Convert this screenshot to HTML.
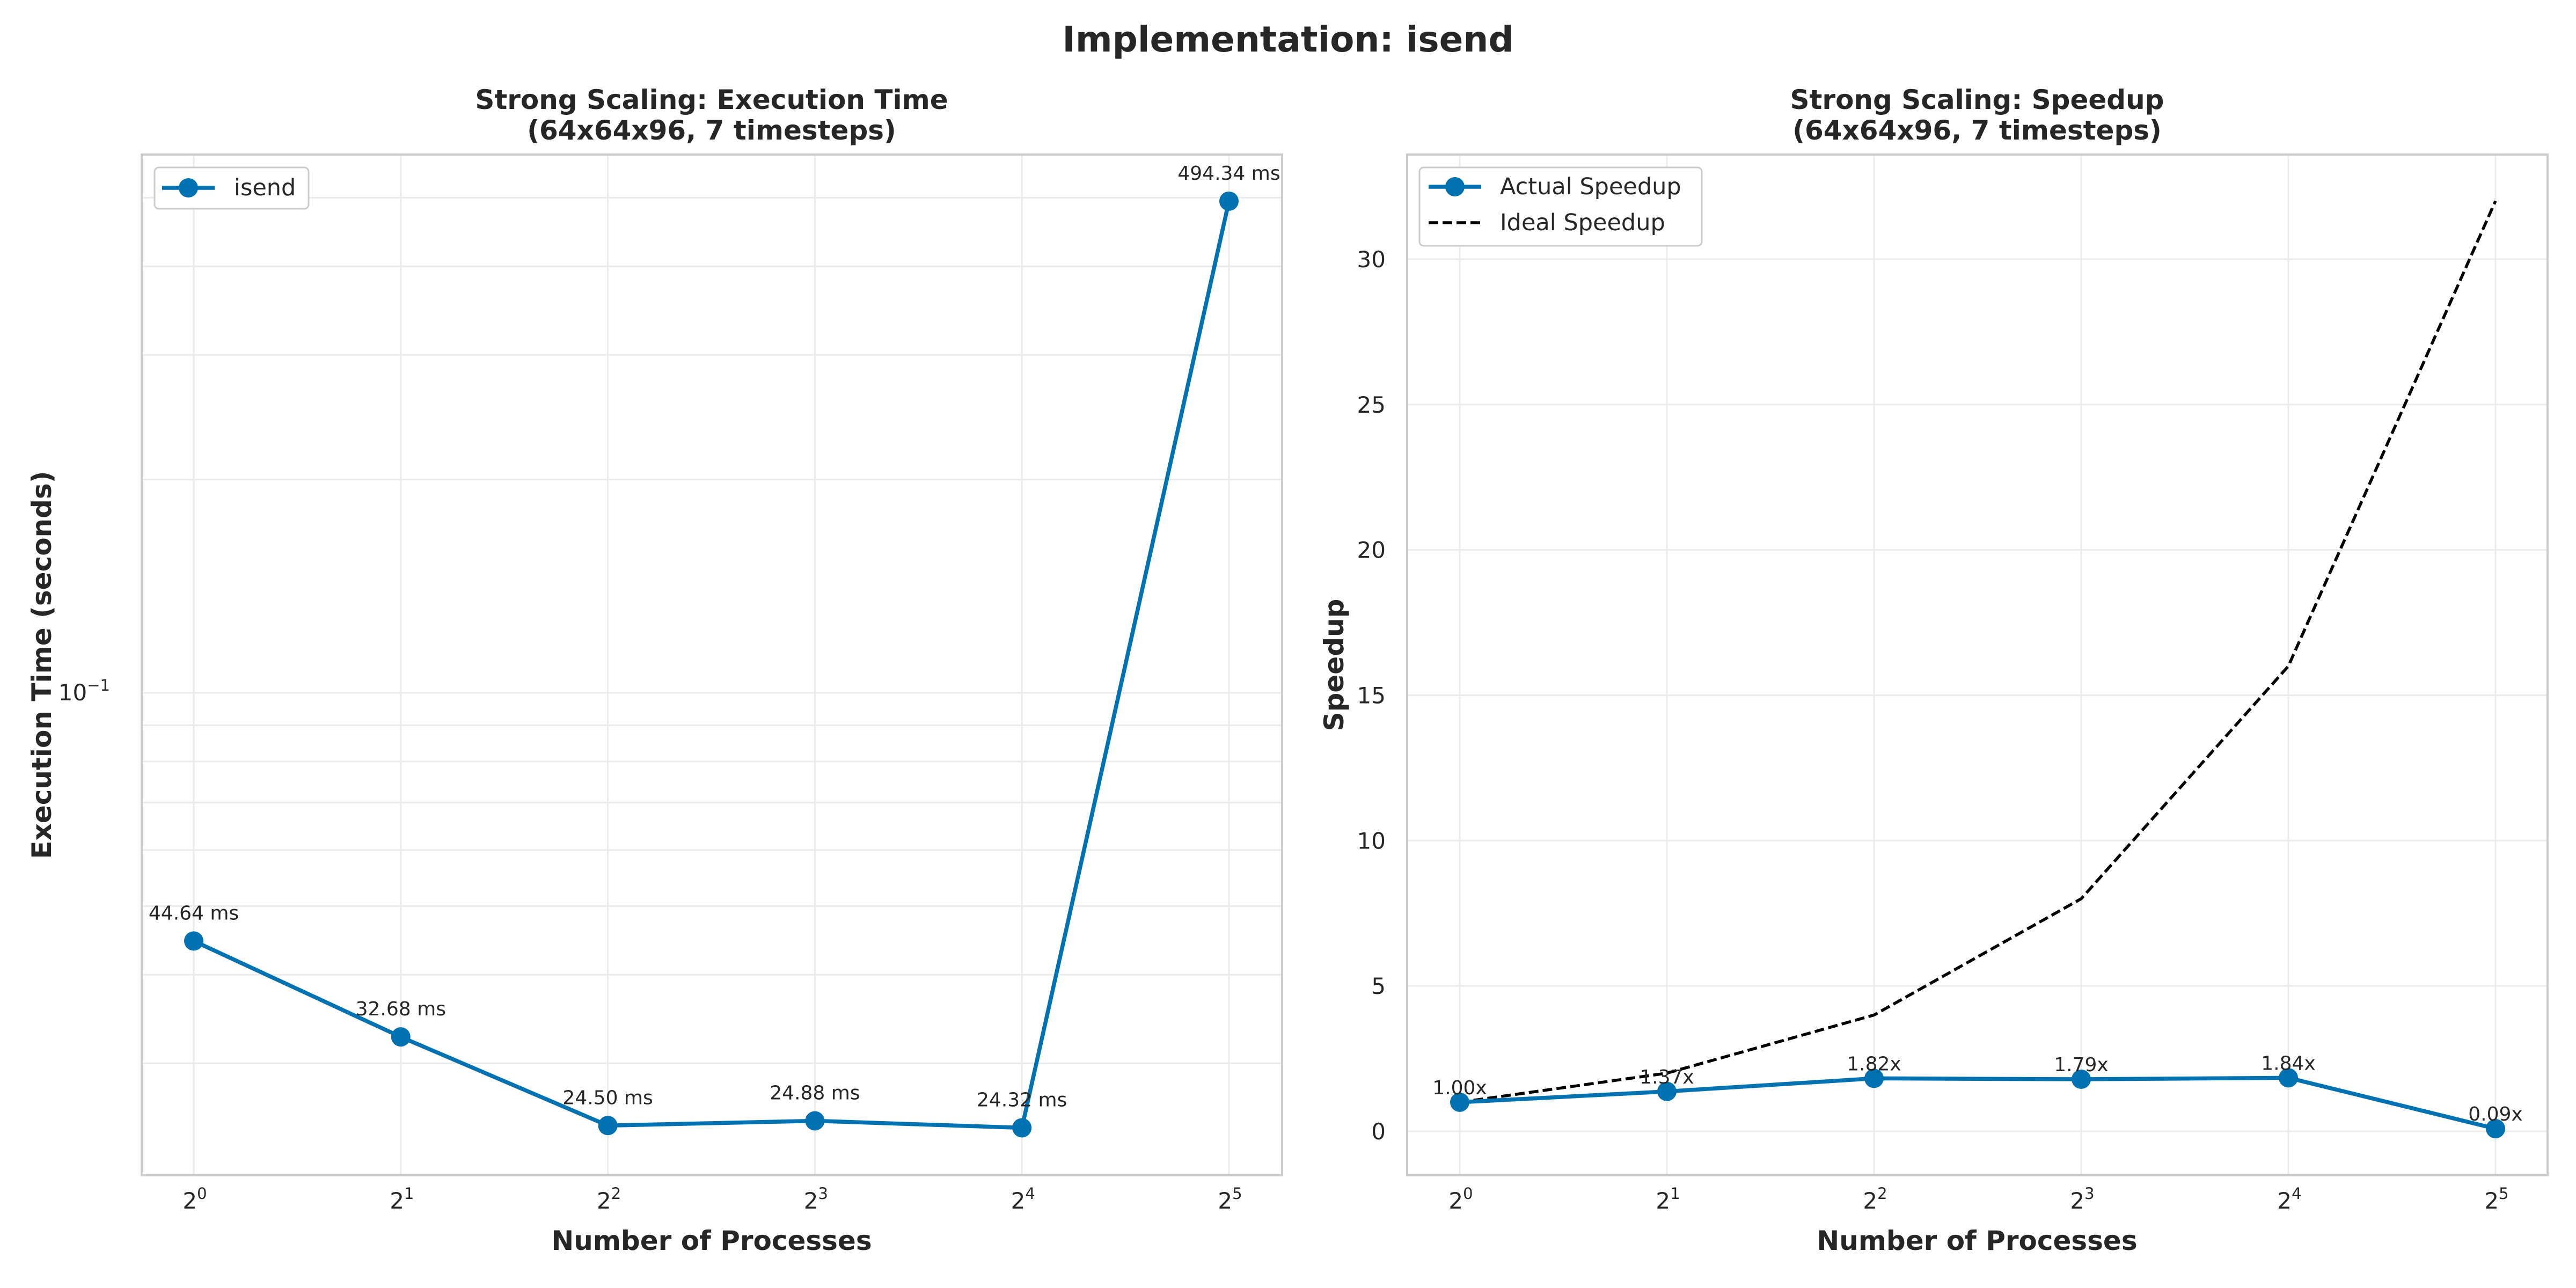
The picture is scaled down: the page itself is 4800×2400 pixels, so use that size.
<!DOCTYPE html>
<html><head><meta charset="utf-8">
<style>
html,body{margin:0;padding:0;background:#fff;}
svg{display:block;font-family:"DejaVu Sans","Liberation Sans",sans-serif;}
</style></head>
<body>
<svg id="fig" width="4800" height="2400" viewBox="0 0 4800 2400" xmlns="http://www.w3.org/2000/svg">
<rect width="4800" height="2400" fill="#fff"/>
<text x="2400" y="96" text-anchor="middle" font-size="66" font-weight="bold" fill="#262626">Implementation: isend</text>
<g id="left"></g>
<g id="right"></g>
</svg>
<script>
const procExponents = [0, 1, 2, 3, 4, 5];
const execTimesMs = [44.64, 32.68, 24.50, 24.88, 24.32, 494.34];
const execLabels = ["44.64 ms", "32.68 ms", "24.50 ms", "24.88 ms", "24.32 ms", "494.34 ms"];
const actualSpeedup = [1.00, 1.37, 1.82, 1.79, 1.84, 0.09];
const speedupLabels = ["1.00x", "1.37x", "1.82x", "1.79x", "1.84x", "0.09x"];
const idealSpeedup = [1, 2, 4, 8, 16, 32];
const speedupTicks = [0, 5, 10, 15, 20, 25, 30];
const logMinorTicks = [0.03, 0.04, 0.05, 0.06, 0.07, 0.08, 0.09, 0.2, 0.3, 0.4, 0.5];

const NS = "http://www.w3.org/2000/svg";
const BLUE = "#0072b2", TXT = "#262626", GRID = "#ebebeb", FRAME = "#cccccc";
function mk(parent, tag, attrs, text) {
  const e = document.createElementNS(NS, tag);
  for (const k in attrs) e.setAttribute(k, attrs[k]);
  if (text !== undefined) e.textContent = text;
  parent.appendChild(e);
  return e;
}
const L = {x0: 264, x1: 2389, y0: 288, y1: 2190};
const R = {x0: 2622, x1: 4747, y0: 288, y1: 2190};
const xL = e => 361 + (e - 0) * 385.8;
const xR = e => 2720 + (e - 0) * 386;
const yLog = v => 1291 - (Math.log10(v) + 1) * 1320;
const ySp = v => 2108 - v * 54.17;
const TF = 50, ANN = 36, LEG = 43;

function axesFrame(g, A) {
  const r = mk(g, 'rect', {x: A.x0, y: A.y0, width: A.x1 - A.x0, height: A.y1 - A.y0, fill: 'none', stroke: FRAME, 'stroke-width': 4});
  
  
}
function xTicks(g, A, xf, nameP) {
  procExponents.forEach(e => {
    const x = xf(e);
    const gl = mk(g, 'line', {x1: x, x2: x, y1: A.y0, y2: A.y1, stroke: GRID, 'stroke-width': 3});
    
    
    const t = mk(g, 'text', {x: x + 2, y: 2252, 'font-size': 42, fill: TXT, 'text-anchor': 'middle'});
    
    
    mk(t, 'tspan', {}, '2');
    mk(t, 'tspan', {dy: -18, 'font-size': 29}, String(e));
  });
}

// LEFT CHART
const gl = document.getElementById('left');
logMinorTicks.concat([0.1]).forEach(v => {
  const y = yLog(v);
  const l = mk(gl, 'line', {x1: L.x0, x2: L.x1, y1: y, y2: y, stroke: GRID, 'stroke-width': 3});
  
  
});
xTicks(gl, L, xL, 'left');
const ytl = mk(gl, 'text', {x: 205, y: 1305, 'font-size': 42, fill: TXT, 'text-anchor': 'end'});


mk(ytl, 'tspan', {}, '10');
mk(ytl, 'tspan', {dy: -18, 'font-size': 29}, '−1');
axesFrame(gl, L);
const lp = mk(gl, 'polyline', {points: procExponents.map((e, i) => xL(e) + ',' + yLog(execTimesMs[i] / 1000)).join(' '), fill: 'none', stroke: BLUE, 'stroke-width': 7.5, 'stroke-linejoin': 'round'});


procExponents.forEach((e, i) => {
  const x = xL(e), y = yLog(execTimesMs[i] / 1000);
  const c = mk(gl, 'circle', {cx: x, cy: y, r: 18, fill: BLUE});
  
  
  const t = mk(gl, 'text', {x: x, y: y - 40, 'font-size': ANN, fill: TXT, 'text-anchor': 'middle'}, execLabels[i]);
  
  
});
let tt = mk(gl, 'text', {x: 1326, y: 203, 'font-size': TF, 'font-weight': 'bold', fill: TXT, 'text-anchor': 'middle'}, 'Strong Scaling: Execution Time');


tt = mk(gl, 'text', {x: 1326, y: 260, 'font-size': TF, 'font-weight': 'bold', fill: TXT, 'text-anchor': 'middle'}, '(64x64x96, 7 timesteps)');


tt = mk(gl, 'text', {x: 1326, y: 2329, 'font-size': TF, 'font-weight': 'bold', fill: TXT, 'text-anchor': 'middle'}, 'Number of Processes');


tt = mk(gl, 'text', {x: 0, y: 0, 'font-size': TF, 'font-weight': 'bold', fill: TXT, 'text-anchor': 'middle', transform: 'translate(95,1239) rotate(-90)'}, 'Execution Time (seconds)');


const lg = mk(gl, 'g', {});


mk(lg, 'rect', {x: 288, y: 312, width: 287, height: 77, rx: 8, fill: '#fff', stroke: FRAME, 'stroke-width': 3});
mk(lg, 'line', {x1: 302, x2: 400, y1: 350, y2: 350, stroke: BLUE, 'stroke-width': 7.5});
mk(lg, 'circle', {cx: 351, cy: 350, r: 18, fill: BLUE});
mk(lg, 'text', {x: 436, y: 364, 'font-size': LEG, fill: TXT}, 'isend');

// RIGHT CHART
const gr = document.getElementById('right');
speedupTicks.forEach(v => {
  const y = ySp(v);
  const l = mk(gr, 'line', {x1: R.x0, x2: R.x1, y1: y, y2: y, stroke: GRID, 'stroke-width': 3});
  
  
  const t = mk(gr, 'text', {x: 2582, y: y + 15, 'font-size': 42, fill: TXT, 'text-anchor': 'end'}, String(v));
  
  
});
xTicks(gr, R, xR, 'right');
axesFrame(gr, R);
const ip = mk(gr, 'polyline', {points: procExponents.map((e, i) => xR(e) + ',' + ySp(idealSpeedup[i])).join(' '), fill: 'none', stroke: '#000', 'stroke-width': 5.5, 'stroke-dasharray': '18 8'});


const ap = mk(gr, 'polyline', {points: procExponents.map((e, i) => xR(e) + ',' + ySp(actualSpeedup[i])).join(' '), fill: 'none', stroke: BLUE, 'stroke-width': 7.5, 'stroke-linejoin': 'round'});


procExponents.forEach((e, i) => {
  const x = xR(e), y = ySp(actualSpeedup[i]);
  const c = mk(gr, 'circle', {cx: x, cy: y, r: 18, fill: BLUE});
  
  
  const t = mk(gr, 'text', {x: x, y: y - 15, 'font-size': ANN, fill: TXT, 'text-anchor': 'middle'}, speedupLabels[i]);
  
  
});
tt = mk(gr, 'text', {x: 3684, y: 203, 'font-size': TF, 'font-weight': 'bold', fill: TXT, 'text-anchor': 'middle'}, 'Strong Scaling: Speedup');


tt = mk(gr, 'text', {x: 3684, y: 260, 'font-size': TF, 'font-weight': 'bold', fill: TXT, 'text-anchor': 'middle'}, '(64x64x96, 7 timesteps)');


tt = mk(gr, 'text', {x: 3684, y: 2329, 'font-size': TF, 'font-weight': 'bold', fill: TXT, 'text-anchor': 'middle'}, 'Number of Processes');


tt = mk(gr, 'text', {x: 0, y: 0, 'font-size': TF, 'font-weight': 'bold', fill: TXT, 'text-anchor': 'middle', transform: 'translate(2503,1239) rotate(-90)'}, 'Speedup');


const rg = mk(gr, 'g', {});


mk(rg, 'rect', {x: 2645, y: 312, width: 526, height: 146, rx: 8, fill: '#fff', stroke: FRAME, 'stroke-width': 3});
mk(rg, 'line', {x1: 2662, x2: 2760, y1: 348, y2: 348, stroke: BLUE, 'stroke-width': 7.5});
mk(rg, 'circle', {cx: 2711, cy: 348, r: 18, fill: BLUE});
mk(rg, 'text', {x: 2795, y: 362, 'font-size': LEG, fill: TXT}, 'Actual Speedup');
mk(rg, 'line', {x1: 2662, x2: 2760, y1: 415, y2: 415, stroke: '#000', 'stroke-width': 5.5, 'stroke-dasharray': '18 8'});
mk(rg, 'text', {x: 2795, y: 429, 'font-size': LEG, fill: TXT}, 'Ideal Speedup');
</script>
</body></html>
